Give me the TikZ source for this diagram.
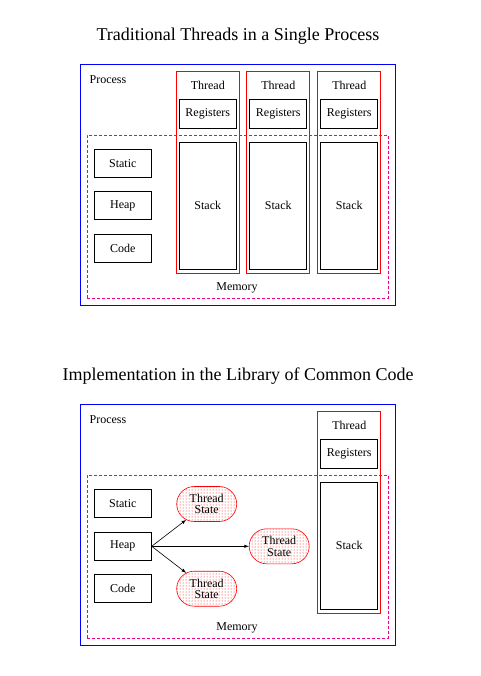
\documentclass[tikz,border=0pt]{standalone}
\usepackage{fontspec}
\setmainfont{Liberation Serif}
\usetikzlibrary{shapes.misc,patterns}

\tikzset{
  cell/.style={draw, line width=0.8pt, minimum width=57pt, inner sep=0pt},
  threadbox/.style={draw=red, line width=0.8pt, minimum width=63pt, minimum height=201.6pt, inner sep=0pt},
  tstate/.style={rounded rectangle, draw=red, line width=0.6pt, pattern=dots, pattern color=red,
    minimum width=60pt, minimum height=35pt, inner sep=0pt, align=center,
    font=\fontsize{12}{11.5}\selectfont},
  procbox/.style={draw=blue, line width=0.8pt, minimum width=315.5pt, minimum height=240.7pt, inner sep=0pt},
  membox/.style={draw=magenta, line width=0.8pt, dash pattern=on 3pt off 2pt,
    minimum width=301pt, minimum height=163pt, inner sep=0pt},
}

\begin{document}
\begin{tikzpicture}[x=1pt,y=-1pt,font=\fontsize{12}{14}\selectfont]
  \useasboundingbox (0,0) rectangle (480,676);

  % Traditional threads
  \node (titleA) at (238,36) {\fontsize{18}{20}\selectfont Traditional Threads in a Single Process};
  \node[procbox] (procA) at (237.8,184.7) {};
  \node (procAlbl) at (108,80) {Process};

  \node[threadbox] (thrA1) at (207.8,172.5) {};
  \node[threadbox] (thrA2) at (278.3,172.5) {};
  \node[threadbox] (thrA3) at (349.3,172.5) {};
  \node (thrA1lbl) at (207.8,85.7) {Thread};
  \node (thrA2lbl) at (278.3,85.7) {Thread};
  \node (thrA3lbl) at (349.3,85.7) {Thread};
  \node[cell, minimum height=29pt] (regA1) at (207.8,113.8) {Registers};
  \node[cell, minimum height=29pt] (regA2) at (278.3,113.8) {Registers};
  \node[cell, minimum height=29pt] (regA3) at (349.3,113.8) {Registers};
  \node[cell, minimum height=127pt] (stkA1) at (207.8,205.8) {Stack};
  \node[cell, minimum height=127pt] (stkA2) at (278.3,205.8) {Stack};
  \node[cell, minimum height=127pt] (stkA3) at (349.3,205.8) {Stack};

  \node[cell, minimum height=28pt] (statA) at (122.8,163.3) {Static};
  \node[cell, minimum height=28pt] (heapA) at (122.8,205.8) {Heap};
  \node[cell, minimum height=28pt] (codeA) at (122.8,248.3) {Code};

  \node[membox] (memA) at (237.8,216.8) {};
  \node (memAlbl) at (237,288.3) {Memory};

  % Library of common code
  \node (titleB) at (238,376) {\fontsize{18}{20}\selectfont Implementation in the Library of Common Code};
  \node[procbox] (procB) at (237.8,524.7) {};
  \node (procBlbl) at (108,420) {Process};

  \node[threadbox] (thrB) at (349.3,512.5) {};
  \node (thrBlbl) at (349.3,425.7) {Thread};
  \node[cell, minimum height=29pt] (regB) at (349.3,453.8) {Registers};
  \node[cell, minimum height=127pt] (stkB) at (349.3,545.8) {Stack};

  \node[cell, minimum height=28pt] (statB) at (122.8,503.3) {Static};
  \node[cell, minimum height=28pt] (heapB) at (122.8,546.3) {Heap};
  \node[cell, minimum height=28pt] (codeB) at (122.8,588.3) {Code};

  \node[tstate] (ts1) at (206.7,504) {Thread\\State};
  \node[tstate] (ts2) at (279.2,546.3) {Thread\\State};
  \node[tstate] (ts3) at (206.7,588.7) {Thread\\State};

  \draw[-latex, line width=0.6pt] (heapB.east) -- (ts1);
  \draw[-latex, line width=0.6pt] (heapB.east) -- (ts2.west);
  \draw[-latex, line width=0.6pt] (heapB.east) -- (ts3);

  \node[membox] (memB) at (237.8,556.8) {};
  \node (memBlbl) at (237,628.3) {Memory};
\end{tikzpicture}
\end{document}
